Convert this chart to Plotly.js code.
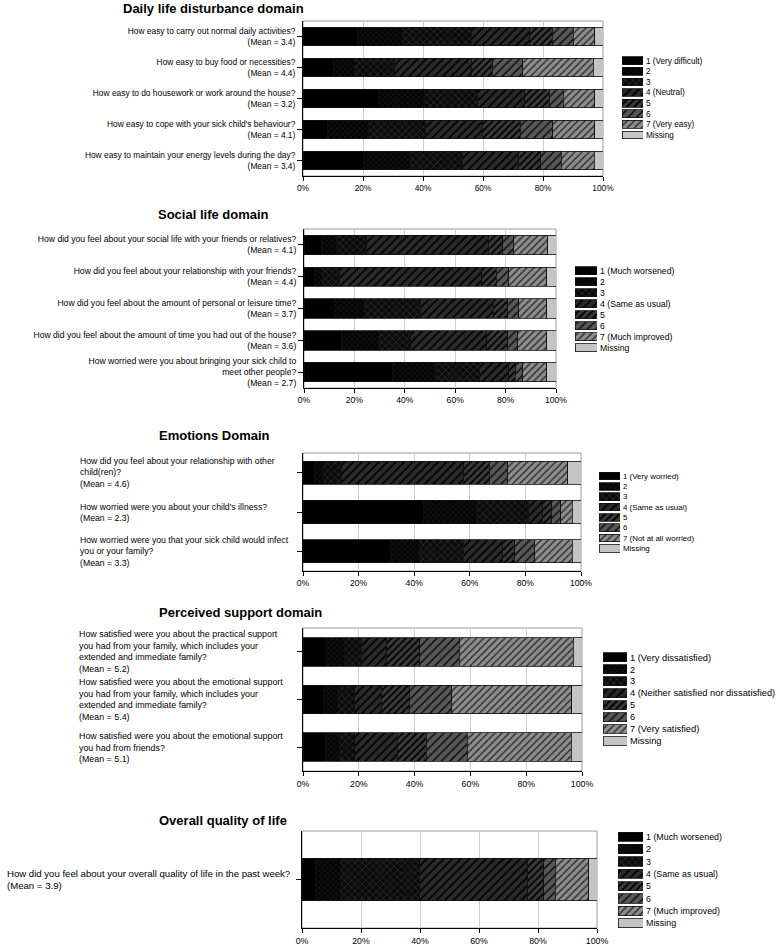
<!DOCTYPE html>
<html>
<head>
<meta charset="utf-8">
<script src="https://cdn.plot.ly/plotly-3.0.1.min.js"></script>
<style>html,body{margin:0;padding:0;background:#fff;}#chart{width:780px;height:947px;}</style>
</head>
<body>
<div id="chart"></div>
<script>
// ---------------- DATA ----------------
// values in %, one inner array per question (top to bottom): levels 1..7, Missing
const dailyCats = [
  "How easy to carry out normal daily activities?<br>(Mean = 3.4)",
  "How easy to buy food or necessities?<br>(Mean = 4.4)",
  "How easy to do housework or work around the house?<br>(Mean = 3.2)",
  "How easy to cope with your sick child's behaviour?<br>(Mean = 4.1)",
  "How easy to maintain your energy levels during the day?<br>(Mean = 3.4)"
];
const dailyValues = [
  [18, 15, 23.1, 19.5, 7.4, 7, 7.3, 2.7],
  [10, 7.2, 13.4, 25.5, 7, 10.2, 23.4, 3.3],
  [25, 15.6, 17.7, 15.6, 8.1, 4.7, 10.6, 2.7],
  [8.3, 13.4, 19.2, 18.9, 12.6, 10.9, 14, 2.7],
  [20, 15.6, 17.5, 18.6, 7.5, 6.9, 10.9, 3]
];
const dailyLegend = ["1 (Very difficult)", "2", "3", "4 (Neutral)", "5", "6", "7 (Very easy)", "Missing"];

const socialCats = [
  "How did you feel about your social life with your friends or relatives?<br>(Mean = 4.1)",
  "How did you feel about your relationship with your friends?<br>(Mean = 4.4)",
  "How did you feel about the amount of personal or leisure time?<br>(Mean = 3.7)",
  "How did you feel about the amount of time you had out of the house?<br>(Mean = 3.6)",
  "How worried were you about bringing your sick child to<br>meet other people?<br>(Mean = 2.7)"
];
const socialValues = [
  [7, 6, 11.9, 48.3, 5.7, 4.3, 13.5, 3.3],
  [4, 3, 7, 56.6, 5.6, 5, 15.2, 3.6],
  [12, 12.2, 21.9, 28.9, 5.8, 4.4, 11.2, 3.6],
  [15, 14.5, 12.6, 30.5, 8.2, 4, 11.6, 3.6],
  [35, 17, 17.7, 11.5, 2.6, 3.1, 9.5, 3.6]
];
const socialLegend = ["1 (Much worsened)", "2", "3", "4 (Same as usual)", "5", "6", "7 (Much improved)", "Missing"];

const emotionCats = [
  "How did you feel about your relationship with other<br>child(ren)?<br>(Mean = 4.6)",
  "How worried were you about your child's illness?<br>(Mean = 2.3)",
  "How worried were you that your sick child would infect<br>you or your family?<br>(Mean = 3.3)"
];
const emotionValues = [
  [4, 3.2, 6.6, 43.9, 9.3, 6.6, 21.7, 4.7],
  [43.3, 19.2, 18.6, 4.9, 3.5, 3.3, 4, 3.2],
  [31.3, 10.5, 15.9, 14.2, 4.2, 7.2, 13.5, 3.2]
];
const emotionLegend = ["1 (Very worried)", "2", "3", "4 (Same as usual)", "5", "6", "7 (Not at all worried)", "Missing"];

const supportCats = [
  "How satisfied were you about the practical support<br>you had from your family, which includes your<br>extended and immediate family?<br>(Mean = 5.2)",
  "How satisfied were you about the emotional support<br>you had from your family, which includes your<br>extended and immediate family?<br>(Mean = 5.4)",
  "How satisfied were you about the emotional support<br>you had from friends?<br>(Mean = 5.1)"
];
const supportValues = [
  [8.6, 6.2, 6, 9.3, 11.7, 14.2, 40.8, 3.2],
  [7.4, 5, 6.1, 9.8, 9.8, 15.3, 43, 3.6],
  [8, 5.1, 5.4, 15.2, 10.4, 14.7, 37.3, 3.9]
];
const supportLegend = ["1 (Very dissatisfied)", "2", "3", "4 (Neither satisfied nor dissatisfied)", "5", "6", "7 (Very satisfied)", "Missing"];

const overallCats = [
  "How did you feel about your overall quality of life in the past week?<br>(Mean = 3.9)"
];
const overallValues = [
  [4.5, 8.5, 26.9, 36.6, 5.4, 4, 11.3, 2.8]
];
const overallLegend = ["1 (Much worsened)", "2", "3", "4 (Same as usual)", "5", "6", "7 (Much improved)", "Missing"];

const xTickValues = [0, 20, 40, 60, 80, 100];

// ---------------- STYLES ----------------
const levelStyles = [
  {color:'#000000', shape:'',  fg:'#000000', bg:'#000000', size:6, sol:0.3},
  {color:'#060606', shape:'x', fg:'#161616', bg:'#050505', size:4, sol:0.3},
  {color:'#101010', shape:'x', fg:'#303030', bg:'#0c0c0c', size:5, sol:0.25},
  {color:'#282828', shape:'/', fg:'#000000', bg:'#2a2a2a', size:6, sol:0.3},
  {color:'#383838', shape:'/', fg:'#000000', bg:'#3a3a3a', size:5, sol:0.35},
  {color:'#585858', shape:'/', fg:'#151515', bg:'#585858', size:6, sol:0.3},
  {color:'#8c8c8c', shape:'/', fg:'#333333', bg:'#8e8e8e', size:5, sol:0.3},
  {color:'#c4c4c4', shape:'',  fg:'#c4c4c4', bg:'#c4c4c4', size:6, sol:0.3}
];

const W = 780, H = 947;
const fx = px => px / W;
const fy = py => 1 - py / H;

const panels = [
  {cats:dailyCats, vals:dailyValues, leg:dailyLegend, title:'Daily life disturbance domain', titleX:121, titleY:8,
   xd:[303,603], yd:[21,176], bw:0.6, tickFont:8.4, labelMode:'tick',
   legX:[622,643], legY:[55.4,140.3], legFont:8.2},
  {cats:socialCats, vals:socialValues, leg:socialLegend, title:'Social life domain', titleX:156, titleY:214,
   xd:[304,556], yd:[229,388], bw:0.61, tickFont:8.6, labelMode:'tick',
   legX:[575,597], legY:[265.2,353.2], legFont:8.7},
  {cats:emotionCats, vals:emotionValues, leg:emotionLegend, title:'Emotions Domain', titleX:157, titleY:436,
   xd:[303,581], yd:[453,571], bw:0.59, tickFont:8.6, labelMode:'annot', labelX:78, labelFont:8.7,
   legX:[599,620], legY:[470.9,553.5], legFont:7.9},
  {cats:supportCats, vals:supportValues, leg:supportLegend, title:'Perceived support domain', titleX:157, titleY:612,
   xd:[303,582], yd:[628,771], bw:0.6, tickFont:8.8, labelMode:'annot', labelX:77, labelFont:8.9,
   legX:[603,627], legY:[651.3,747], legFont:9.3},
  {cats:overallCats, vals:overallValues, leg:overallLegend, title:'Overall quality of life', titleX:157, titleY:820,
   xd:[302,597], yd:[831,928], bw:0.44, tickFont:8.8, labelMode:'annot', labelX:5, labelFont:9.6,
   legX:[618,643], legY:[830.5,929.5], legFont:8.9}
];

const traces = [];
const layout = {
  width:W, height:H, margin:{l:0,r:0,t:0,b:0},
  paper_bgcolor:'#ffffff', plot_bgcolor:'#ffffff',
  font:{family:'Liberation Sans, Arial, sans-serif', color:'#000'},
  showlegend:false, barmode:'stack',
  annotations:[], shapes:[]
};

function markerFor(s) {
  return {color:s.color, line:{color:'#111', width:0.8},
    pattern:{shape:s.shape, fgcolor:s.fg, bgcolor:s.bg, size:s.size, solidity:s.sol, fillmode:'replace'}};
}

panels.forEach((p, i) => {
  const n = i + 1;
  const sfx = n === 1 ? '' : String(n);
  const xr = 'x' + sfx, yr = 'y' + sfx;
  layout['xaxis' + sfx] = {
    domain:[fx(p.xd[0]), fx(p.xd[1])], anchor:yr, range:[0,100],
    tickmode:'array', tickvals:xTickValues, ticktext:xTickValues.map(v => v + '%'),
    showgrid:true, gridcolor:'#cdcdcd', gridwidth:1, zeroline:false,
    showline:true, linecolor:'#000', linewidth:1,
    ticks:'outside', ticklen:4, tickcolor:'#000', tickfont:{size:p.tickFont, color:'#000'}, fixedrange:true
  };
  layout['yaxis' + sfx] = {
    domain:[fy(p.yd[1]), fy(p.yd[0])], anchor:xr, type:'category',
    range:[p.cats.length - 0.5, -0.5], showgrid:false, zeroline:false,
    showline:true, linecolor:'#000', linewidth:1,
    ticks:'outside', ticklen:5, tickcolor:'#000',
    showticklabels:p.labelMode === 'tick', tickfont:{size:p.tickFont, color:'#000'}, fixedrange:true
  };
  layout.shapes.push({type:'rect', xref:xr + ' domain', yref:yr + ' domain', x0:0, x1:1, y0:0, y1:1,
    line:{color:'#9a9a9a', width:1}, layer:'below'});
  levelStyles.forEach((s, k) => {
    traces.push({
      type:'bar', orientation:'h', xaxis:xr, yaxis:yr,
      y:p.cats, x:p.vals.map(r => r[k]), width:p.bw, name:p.leg[k],
      marker:markerFor(s), hoverinfo:'x+name'
    });
  });
  if (p.labelMode === 'annot') {
    p.cats.forEach((c, j) => {
      layout.annotations.push({xref:'paper', x:fx(p.labelX), xanchor:'left', yref:yr, y:j, yanchor:'middle',
        text:c, align:'left', showarrow:false, font:{size:p.labelFont, color:'#000'}});
    });
  }
  layout.annotations.push({xref:'paper', yref:'paper', x:fx(p.titleX), y:fy(p.titleY), xanchor:'left', yanchor:'middle',
    text:'<b>' + p.title + '</b>', showarrow:false, font:{size:13, color:'#000'}});
  // legend: swatch axis, one trace per level
  const ln = n + 5;
  layout['xaxis' + ln] = {domain:[fx(p.legX[0]), fx(p.legX[1])], anchor:'y' + ln, range:[0,1], visible:false, fixedrange:true};
  layout['yaxis' + ln] = {domain:[fy(p.legY[1]), fy(p.legY[0])], anchor:'x' + ln, type:'category',
    categoryorder:'array', categoryarray:p.leg,
    range:[p.leg.length - 0.5, -0.5], side:'right', showline:false, showgrid:false, zeroline:false,
    ticks:'', tickfont:{size:p.legFont, color:'#000'}, ticklabelstandoff:2, fixedrange:true};
  levelStyles.forEach((s, k) => {
    traces.push({
      type:'bar', orientation:'h', xaxis:'x' + ln, yaxis:'y' + ln,
      y:[p.leg[k]], x:[1], width:0.74, hoverinfo:'skip', marker:markerFor(s)
    });
  });
});

Plotly.newPlot('chart', traces, layout, {displayModeBar:false, staticPlot:true});
</script>
</body>
</html>
